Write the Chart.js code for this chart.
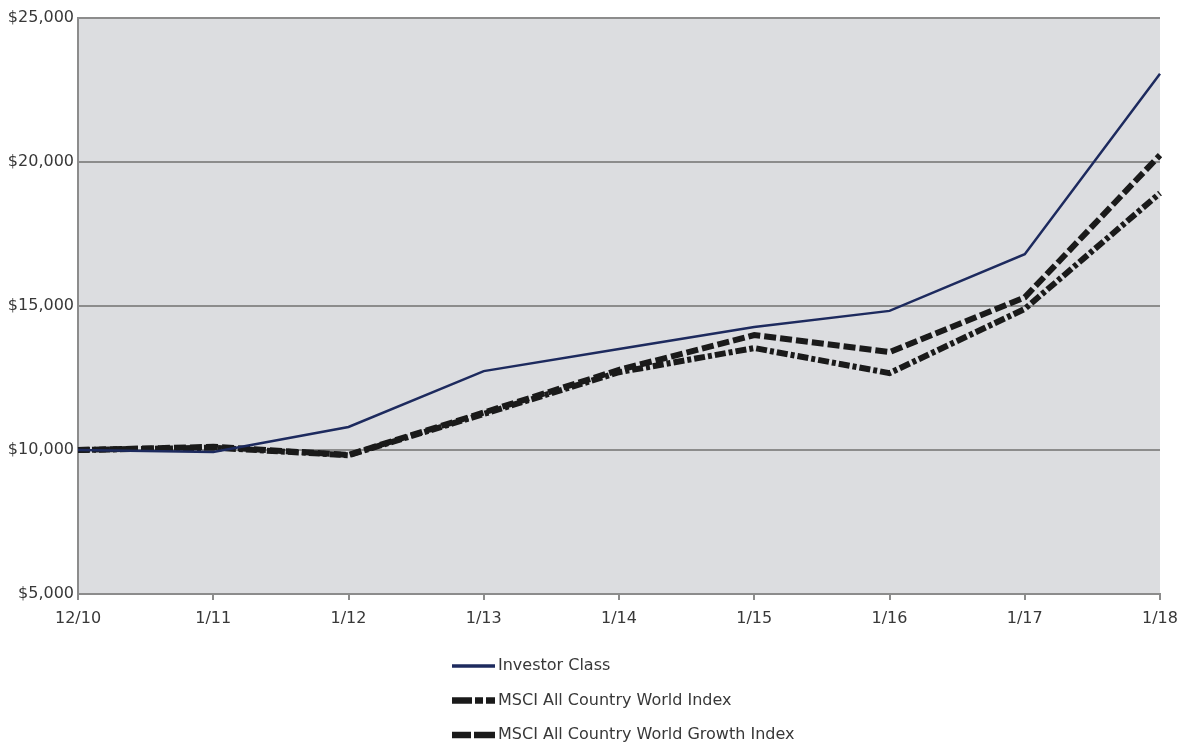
<!DOCTYPE html>
<html>
<head>
<meta charset="utf-8">
<script src="https://cdn.jsdelivr.net/npm/chart.js@4"></script>
<style>
  html, body { margin: 0; padding: 0; background: #fff; }
  #wrap { width: 1185px; height: 744px; position: relative; }
</style>
</head>
<body>
<div id="wrap"><canvas id="c" width="1185" height="744"></canvas></div>
<script>
// Growth of a $10,000 investment
const periods = ['12/10', '1/11', '1/12', '1/13', '1/14', '1/15', '1/16', '1/17', '1/18'];
const investorClass = [10000, 9930, 10800, 12740, 13510, 14270, 14830, 16800, 23060];
const msciAcwi = [10000, 10080, 9820, 11250, 12700, 13540, 12670, 14900, 18920];
const msciAcwiGrowth = [10000, 10110, 9830, 11300, 12780, 13990, 13400, 15300, 20240];
const yTicks = [5000, 10000, 15000, 20000, 25000];

const FONT = '"DejaVu Sans", sans-serif';
const TEXT = '#383838';
const GRID = '#8c8c8c';

const series = [
  { label: 'Investor Class', data: investorClass, color: '#1d2a5e', width: 2.5, dash: [] },
  { label: 'MSCI All Country World Index', data: msciAcwi, color: '#1a1a1a', width: 6, dash: [11, 3, 4, 3] },
  { label: 'MSCI All Country World Growth Index', data: msciAcwiGrowth, color: '#1a1a1a', width: 6, dash: [12, 4] }
];

// Legend swatch segments [start, end] relative to the swatch's left edge
const swatchSegments = [
  [[0, 43]],
  [[0, 20], [23, 31], [34, 43]],
  [[0, 19], [22, 43]]
];

// Grey plot-area fill behind the lines
const plotBackground = {
  id: 'plotBackground',
  beforeDraw(chart) {
    const { ctx, chartArea: a } = chart;
    ctx.save();
    ctx.fillStyle = '#dcdde0';
    ctx.fillRect(a.left, a.top, a.right - a.left, a.bottom - a.top);
    ctx.restore();
  }
};

// Stacked legend under the chart
const stackedLegend = {
  id: 'stackedLegend',
  afterDraw(chart) {
    const ctx = chart.ctx;
    const x0 = 452, y0 = 666, step = 34.5, textX = 498;
    ctx.save();
    ctx.font = '16px ' + FONT;
    ctx.textBaseline = 'middle';
    chart.data.datasets.forEach((ds, i) => {
      const y = y0 + i * step;
      ctx.strokeStyle = ds.borderColor;
      ctx.lineWidth = i === 0 ? 3.5 : 6.5;
      ctx.lineCap = 'butt';
      swatchSegments[i].forEach(([a, b]) => {
        ctx.beginPath();
        ctx.moveTo(x0 + a, y);
        ctx.lineTo(x0 + b, y);
        ctx.stroke();
      });
      ctx.fillStyle = TEXT;
      ctx.fillText(ds.label, textX, y);
    });
    ctx.restore();
  }
};

new Chart(document.getElementById('c'), {
  type: 'line',
  data: {
    labels: periods,
    datasets: series.map(s => ({
      label: s.label,
      data: s.data,
      borderColor: s.color,
      backgroundColor: s.color,
      borderWidth: s.width,
      borderDash: s.dash,
      borderCapStyle: 'butt',
      borderJoinStyle: 'miter',
      pointRadius: 0,
      tension: 0,
      fill: false
    }))
  },
  options: {
    responsive: false,
    animation: false,
    devicePixelRatio: 1,
    layout: { padding: { left: 0, top: 18, right: 25, bottom: 110 } },
    plugins: { legend: { display: false }, tooltip: { enabled: false } },
    scales: {
      x: {
        offset: false,
        grid: { drawOnChartArea: false, drawTicks: true, tickLength: 6, color: GRID, lineWidth: 2 },
        border: { display: true, color: GRID, width: 2 },
        ticks: { color: TEXT, font: { family: FONT, size: 16 }, padding: 9, maxRotation: 0, autoSkip: false },
        afterFit(scale) {
          scale.height = 40;
          scale.paddingLeft = 0;
          scale.paddingRight = 0;
        }
      },
      y: {
        min: 5000,
        max: 25000,
        afterBuildTicks(scale) { scale.ticks = yTicks.map(v => ({ value: v })); },
        grid: { color: GRID, lineWidth: 2, drawTicks: false },
        border: { display: true, color: GRID, width: 2 },
        ticks: {
          color: TEXT,
          font: { family: FONT, size: 16 },
          padding: 4,
          callback: v => '$' + v.toLocaleString('en-US')
        },
        afterFit(scale) {
          scale.width = 78;
          scale.paddingTop = 0;
          scale.paddingBottom = 0;
        }
      }
    }
  },
  plugins: [plotBackground, stackedLegend]
});
</script>
</body>
</html>
